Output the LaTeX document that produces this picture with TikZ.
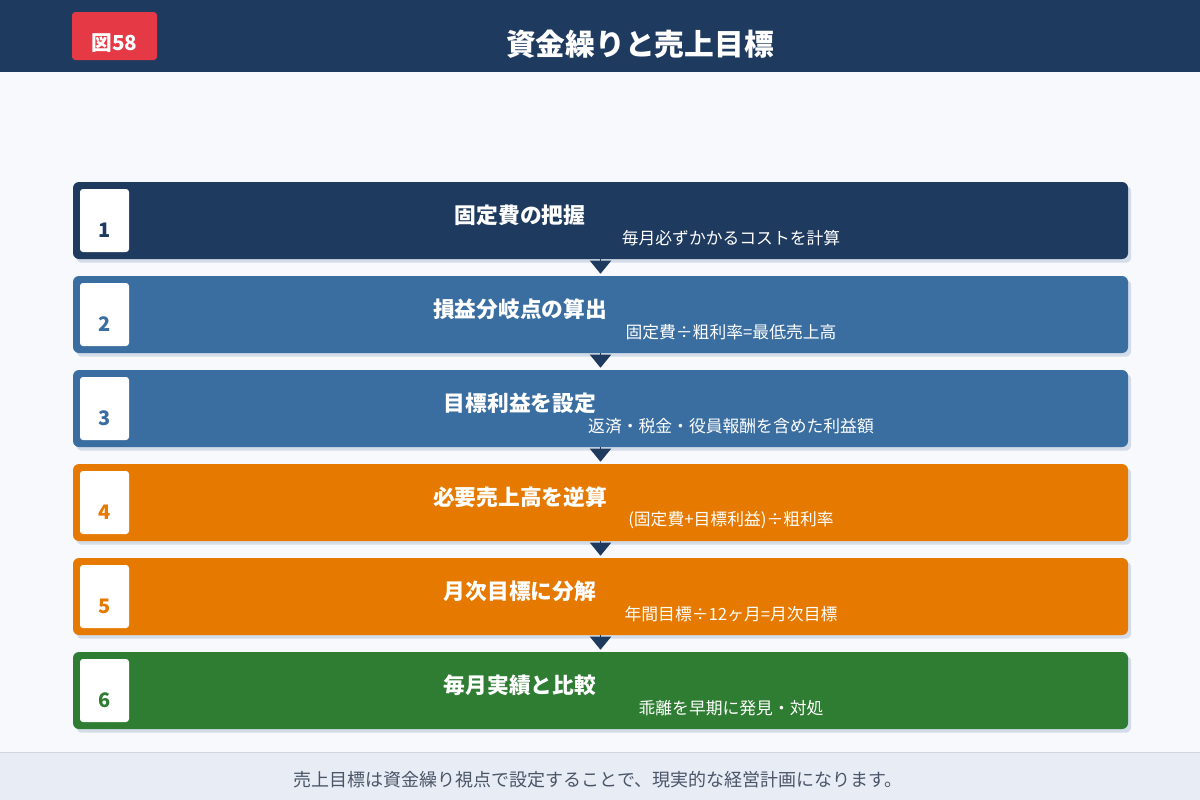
\documentclass[tikz,border=0pt]{standalone}
\usepackage{fontspec}
\setmainfont{Noto Sans CJK JP}
\usetikzlibrary{arrows.meta,shadows}
\definecolor{navy}{HTML}{1F3A5F}
\definecolor{blueb}{HTML}{3A6EA0}
\definecolor{orangeb}{HTML}{E67A00}
\definecolor{greenb}{HTML}{2E7D32}
\definecolor{badgered}{HTML}{E63946}
\definecolor{bgc}{HTML}{F7F9FC}
\definecolor{footc}{HTML}{E8EDF5}
\definecolor{footline}{HTML}{D0D7E2}
\definecolor{foottext}{HTML}{4A5568}
\definecolor{shadowc}{HTML}{D3DCE8}
\tikzset{
  stepbox/.style={draw=none, rounded corners=4.5pt, minimum width=791.25pt, minimum height=57.75pt, inner sep=0pt,
    drop shadow={shadow xshift=2.4pt, shadow yshift=-2.8pt, fill=shadowc, opacity=1}},
  numbox/.style={fill=white, rounded corners=2.25pt, minimum width=36.75pt, minimum height=47.25pt, inner sep=0pt},
  numtext/.style={font=\bfseries\fontsize{15}{15}\selectfont, inner sep=0pt},
  titletext/.style={text=white, font=\bfseries\fontsize{16.3}{16.3}\selectfont, inner sep=0pt},
  subtext/.style={text=white, font=\fontsize{12.6}{12.6}\selectfont, inner sep=0pt},
  arr/.style={draw=navy, line width=1pt, -{Triangle[width=15.75pt,length=9.75pt]}, shorten >=1.5pt},
}
\begin{document}
\begin{tikzpicture}[x=0.75pt,y=-0.75pt]
\fill[bgc] (0,0) rectangle (1200,800);
\useasboundingbox (0,0) rectangle (1200,800);
\fill[navy] (0,0) rectangle (1200,72);
\node[fill=badgered, rounded corners=2.5pt, minimum width=63.75pt, minimum height=36pt, inner sep=0pt] (badge) at (114.5,36) {};
\node[text=white, font=\bfseries\fontsize{15.5}{15.5}\selectfont, inner sep=0pt] (badgetext) at (114.5,43) {図58};
\node[text=white, font=\bfseries\fontsize{22.3}{22.3}\selectfont, inner sep=0pt] (title) at (640,44) {資金繰りと売上目標};
\fill[footc] (0,752) rectangle (1200,800);
\draw[footline, line width=0.75pt] (0,752.5) -- (1200,752.5);
\node[text=foottext, font=\fontsize{13.5}{13.5}\selectfont, inner sep=0pt] (foot) at (598,780) {売上目標は資金繰り視点で設定することで、現実的な経営計画になります。};
\foreach \i/\yy/\col/\ttl/\sub in {
  1/220.5/navy/固定費の把握/毎月必ずかかるコストを計算,
  2/314.5/blueb/損益分岐点の算出/固定費÷粗利率=最低売上高,
  3/408.5/blueb/目標利益を設定/返済・税金・役員報酬を含めた利益額,
  4/502.5/orangeb/必要売上高を逆算/(固定費+目標利益)÷粗利率,
  5/596.5/orangeb/月次目標に分解/年間目標÷12ヶ月=月次目標,
  6/690.5/greenb/毎月実績と比較/乖離を早期に発見・対処}{
  \node[stepbox, fill=\col] (b\i) at (600.5,\yy) {};
  \node[numbox] (n\i) at (104.5,\yy) {};
  \node[numtext, text=\col] (nt\i) at (104.5,\yy+9.5) {\i};
  \node[titletext] (t\i) at (520,\yy-5.5) {\ttl};
  \node[subtext] (s\i) at (731,\yy+17.5) {\sub};
}
\foreach \a/\b in {1/2,2/3,3/4,4/5,5/6}{
  \draw[arr] (b\a.south) -- (b\b.north);
}
\end{tikzpicture}
\end{document}
